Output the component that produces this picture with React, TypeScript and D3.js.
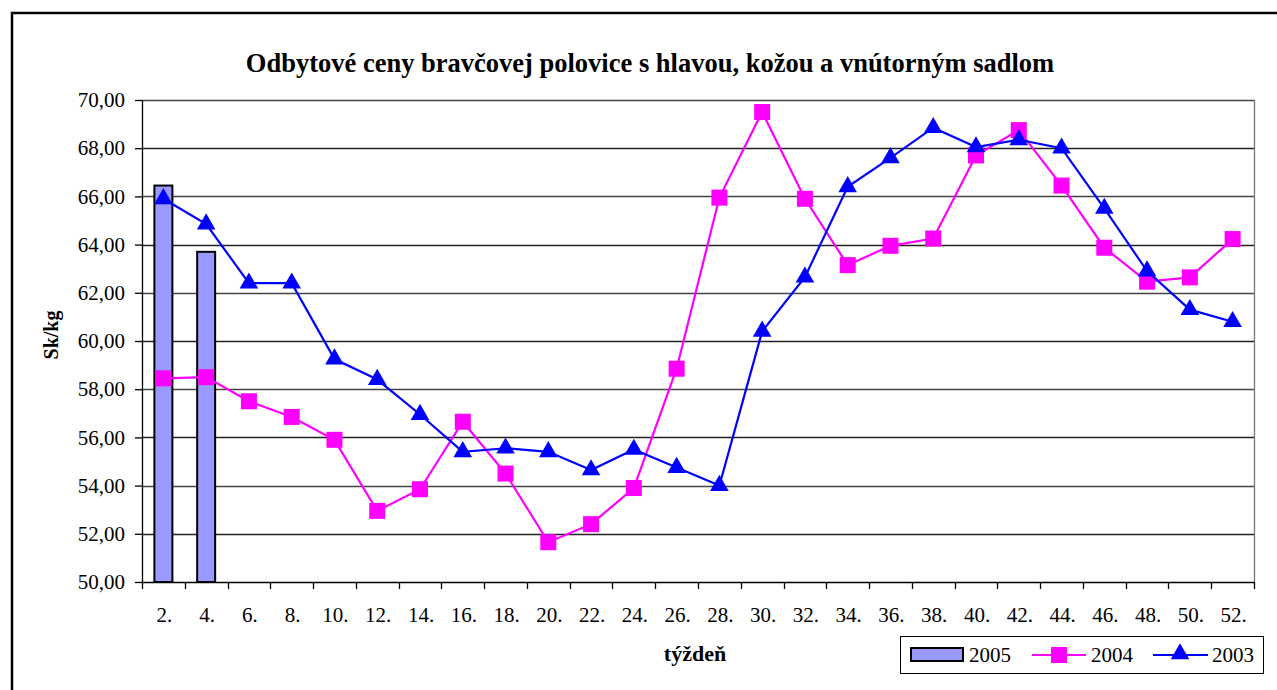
import { useEffect, useRef } from 'react';
import * as d3 from 'd3';

const weeks = ['2.', '4.', '6.', '8.', '10.', '12.', '14.', '16.', '18.', '20.', '22.', '24.', '26.',
  '28.', '30.', '32.', '34.', '36.', '38.', '40.', '42.', '44.', '46.', '48.', '50.', '52.'];

const prices2005 = [66.45, 63.7];

const prices2004 = [58.45, 58.5, 57.5, 56.85, 55.9, 52.95, 53.85, 56.65, 54.5, 51.65, 52.4, 53.9, 58.85,
  65.95, 69.5, 65.9, 63.15, 63.95, 64.25, 67.7, 68.75, 66.45, 63.87, 62.46, 62.64, 64.23];

const prices2003 = [65.9, 64.85, 62.4, 62.4, 59.25, 58.4, 56.95, 55.4, 55.55, 55.4, 54.65, 55.5, 54.75,
  54.0, 60.4, 62.65, 66.4, 67.6, 68.85, 68.05, 68.35, 68.0, 65.5, 62.9, 61.3, 60.8];

const yTicks = [50, 52, 54, 56, 58, 60, 62, 64, 66, 68, 70];

const W = 1277;
const H = 690;
const FONT = '"Liberation Serif", "Times New Roman", serif';

export default function App() {
  const svgRef = useRef<SVGSVGElement>(null);

  useEffect(() => {
    if (!svgRef.current) return;
    const svg = d3.select(svgRef.current);
    svg.selectAll('*').remove();

    const margin = { top: 100, right: 23, bottom: 108, left: 142 };
    const innerWidth = W - margin.left - margin.right;
    const innerHeight = H - margin.top - margin.bottom;

    // outer frame
    svg.append('rect')
      .attr('x', 12).attr('y', 13)
      .attr('width', 1300).attr('height', 700)
      .attr('fill', 'white')
      .attr('stroke', 'black')
      .attr('stroke-width', 2.5);

    const x = d3.scaleBand()
      .domain(weeks)
      .range([0, innerWidth]);

    const y = d3.scaleLinear()
      .domain([50, 70])
      .range([innerHeight, 0]);

    const g = svg.append('g')
      .attr('transform', `translate(${margin.left},${margin.top})`);

    // gridlines
    g.append('g')
      .selectAll('line')
      .data(yTicks.slice(1))
      .enter().append('line')
      .attr('x1', 0).attr('x2', innerWidth)
      .attr('y1', d => Math.round(y(d)) + 0.5)
      .attr('y2', d => Math.round(y(d)) + 0.5)
      .attr('stroke', (d, i) => (i % 2 === 0 ? '#222' : '#444'))
      .attr('stroke-width', 1.3);

    // right edge of plot area
    g.append('line')
      .attr('x1', innerWidth + 0.5).attr('x2', innerWidth + 0.5)
      .attr('y1', 0).attr('y2', innerHeight)
      .attr('stroke', '#777')
      .attr('stroke-width', 1.3);

    // y axis
    const yAxis = g.append('g')
      .call(d3.axisLeft(y).tickValues(yTicks).tickSize(7).tickSizeOuter(0)
        .tickFormat(d => d3.format('.2f')(d as number).replace('.', ',')));
    yAxis.select('.domain').attr('stroke', '#000').attr('stroke-width', 1.3);
    yAxis.selectAll('.tick line').attr('stroke', '#000').attr('stroke-width', 1.3);
    yAxis.selectAll('.tick text')
      .attr('x', -17)
      .attr('font-family', FONT)
      .attr('font-size', 21)
      .attr('fill', '#000');

    // x axis: ticks at category boundaries
    const xAxis = g.append('g')
      .attr('transform', `translate(0,${innerHeight})`);
    xAxis.append('line')
      .attr('x1', 0).attr('x2', innerWidth)
      .attr('y1', 0.5).attr('y2', 0.5)
      .attr('stroke', '#000').attr('stroke-width', 1.3);
    xAxis.selectAll('.xtick')
      .data(weeks.map(w => x(w)!).concat([innerWidth]))
      .enter().append('line')
      .attr('x1', d => Math.round(d) + 0.5).attr('x2', d => Math.round(d) + 0.5)
      .attr('y1', 0).attr('y2', 7)
      .attr('stroke', '#000').attr('stroke-width', 1.3);
    xAxis.selectAll('.xlabel')
      .data(weeks)
      .enter().append('text')
      .attr('x', d => x(d)! + x.bandwidth() / 2 + 1)
      .attr('y', 40)
      .attr('text-anchor', 'middle')
      .attr('font-family', FONT)
      .attr('font-size', 21)
      .text(d => d);

    // 2005 bars
    const barW = 18;
    g.selectAll('.bar')
      .data(prices2005)
      .enter().append('rect')
      .attr('x', (d, i) => x(weeks[i])! + x.bandwidth() / 2 - barW / 2)
      .attr('y', d => y(d))
      .attr('width', barW)
      .attr('height', d => innerHeight - y(d))
      .attr('fill', '#9999ff')
      .attr('stroke', '#000')
      .attr('stroke-width', 2);

    const cx = (i: number) => x(weeks[i])! + x.bandwidth() / 2;
    const line = d3.line<number>().x((d, i) => cx(i)).y(d => y(d));

    // 2004
    g.append('path')
      .datum(prices2004)
      .attr('d', line)
      .attr('fill', 'none')
      .attr('stroke', '#ff00ff')
      .attr('stroke-width', 2.2);
    g.selectAll('.sq')
      .data(prices2004)
      .enter().append('rect')
      .attr('x', (d, i) => cx(i) - 8)
      .attr('y', d => y(d) - 8)
      .attr('width', 16).attr('height', 16)
      .attr('fill', '#ff00ff');

    // 2003
    g.append('path')
      .datum(prices2003)
      .attr('d', line)
      .attr('fill', 'none')
      .attr('stroke', '#0000ff')
      .attr('stroke-width', 2.2);
    const tri = d3.symbol().type(d3.symbolTriangle).size(150);
    g.selectAll('.tri')
      .data(prices2003)
      .enter().append('path')
      .attr('transform', (d, i) => `translate(${cx(i)},${y(d)})`)
      .attr('d', tri)
      .attr('fill', '#0000ff');

    // title & axis titles
    svg.append('text')
      .attr('x', 650).attr('y', 72)
      .attr('text-anchor', 'middle')
      .attr('font-family', FONT)
      .attr('font-weight', 'bold')
      .attr('font-size', 26.5)
      .text('Odbytové ceny bravčovej polovice s hlavou, kožou a vnútorným sadlom');

    svg.append('text')
      .attr('transform', 'translate(58,335) rotate(-90)')
      .attr('text-anchor', 'middle')
      .attr('font-family', FONT)
      .attr('font-weight', 'bold')
      .attr('font-size', 20)
      .text('Sk/kg');

    svg.append('text')
      .attr('x', 695).attr('y', 661)
      .attr('text-anchor', 'middle')
      .attr('font-family', FONT)
      .attr('font-weight', 'bold')
      .attr('font-size', 22)
      .text('týždeň');

    // legend
    const lg = svg.append('g').attr('transform', 'translate(900,636)');
    lg.append('rect')
      .attr('x', 0.5).attr('y', 0.5)
      .attr('width', 363).attr('height', 37)
      .attr('fill', 'white')
      .attr('stroke', '#000')
      .attr('stroke-width', 1);
    lg.append('rect')
      .attr('x', 11).attr('y', 12)
      .attr('width', 52).attr('height', 13)
      .attr('fill', '#9999ff')
      .attr('stroke', '#000')
      .attr('stroke-width', 2);
    lg.append('text')
      .attr('x', 69).attr('y', 26)
      .attr('font-family', FONT).attr('font-size', 21)
      .text('2005');
    lg.append('line')
      .attr('x1', 132).attr('x2', 186)
      .attr('y1', 19).attr('y2', 19)
      .attr('stroke', '#ff00ff').attr('stroke-width', 2.2);
    lg.append('rect')
      .attr('x', 151).attr('y', 11)
      .attr('width', 16).attr('height', 16)
      .attr('fill', '#ff00ff');
    lg.append('text')
      .attr('x', 191).attr('y', 26)
      .attr('font-family', FONT).attr('font-size', 21)
      .text('2004');
    lg.append('line')
      .attr('x1', 253).attr('x2', 308)
      .attr('y1', 19).attr('y2', 19)
      .attr('stroke', '#0000ff').attr('stroke-width', 2.2);
    lg.append('path')
      .attr('transform', 'translate(280,18)')
      .attr('d', tri)
      .attr('fill', '#0000ff');
    lg.append('text')
      .attr('x', 312).attr('y', 26)
      .attr('font-family', FONT).attr('font-size', 21)
      .text('2003');
  }, []);

  return (
    <svg
      ref={svgRef}
      width={W}
      height={H}
      style={{ position: 'absolute', left: 0, top: 0, display: 'block' }}
    />
  );
}
